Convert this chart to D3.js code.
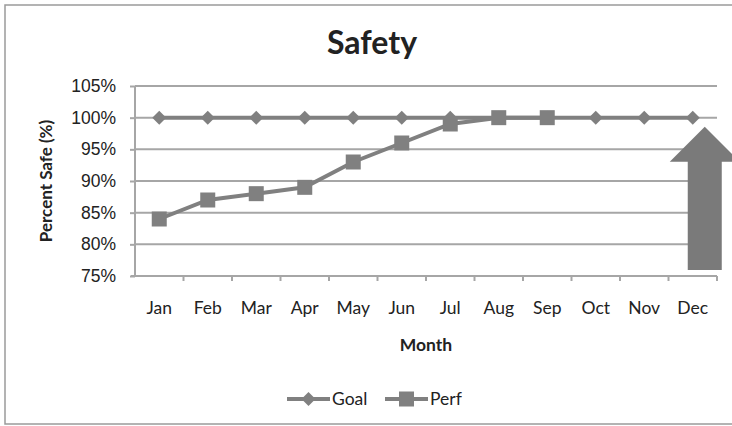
<!DOCTYPE html>
<html>
<head>
<meta charset="utf-8">
<script src="https://cdn.jsdelivr.net/npm/d3@7"></script>
<style>
  html, body { margin: 0; padding: 0; background: #fff; }
  svg { display: block; font-family: Lato, "Open Sans", "Liberation Sans", sans-serif; }
</style>
</head>
<body>
<svg id="chart" width="732" height="426"></svg>
<script>
// Monthly safety figures
const months = ["Jan", "Feb", "Mar", "Apr", "May", "Jun", "Jul", "Aug", "Sep", "Oct", "Nov", "Dec"];
const goalValues = [100, 100, 100, 100, 100, 100, 100, 100, 100, 100, 100, 100];
const perfValues = [84, 87, 88, 89, 93, 96, 99, 100, 100];
const yTicks = [75, 80, 85, 90, 95, 100, 105];
const seriesNames = ["Goal", "Perf"];

const svg = d3.select("#chart");
const W = 732, H = 426;
const plot = { left: 135, right: 717, top: 86, bottom: 276 };

const gridColor = "#a6a6a6";
const markColor = "#808080";
const textColor = "#222";

// outer chart frame
svg.append("rect")
  .attr("x", 5).attr("y", 5).attr("width", W + 4).attr("height", 419)
  .attr("fill", "#fff").attr("stroke", "#9a9a9a").attr("stroke-width", 1.5);

const x = d3.scaleBand().domain(months).range([plot.left, plot.right]).padding(0);
const y = d3.scaleLinear().domain([75, 105]).range([plot.bottom, plot.top]);

// horizontal gridlines
svg.append("g").selectAll("line").data(yTicks.filter(d => d > 75)).join("line")
  .attr("x1", plot.left).attr("x2", plot.right)
  .attr("y1", d => y(d)).attr("y2", d => y(d))
  .attr("stroke", gridColor).attr("stroke-width", 2);

// y axis
const yAxis = svg.append("g")
  .attr("transform", `translate(${plot.left},0)`)
  .call(d3.axisLeft(y).tickValues(yTicks).tickFormat(d => d + "%").tickSize(5).tickPadding(14));
yAxis.select(".domain").attr("stroke", gridColor).attr("stroke-width", 2)
  .attr("d", `M0,${plot.top}V${plot.bottom}`);
yAxis.selectAll(".tick line").attr("stroke", gridColor).attr("stroke-width", 2);
yAxis.selectAll(".tick text").attr("fill", textColor).attr("font-size", 17.5);

// x axis: ticks sit on category boundaries
const xAxis = svg.append("g")
  .attr("transform", `translate(0,${plot.bottom})`);
xAxis.append("line")
  .attr("x1", plot.left - 4).attr("x2", plot.right)
  .attr("y1", 0).attr("y2", 0)
  .attr("stroke", gridColor).attr("stroke-width", 2);
xAxis.selectAll("line.tick").data(months).join("line")
  .attr("class", "tick")
  .attr("x1", d => x(d) + x.bandwidth())
  .attr("x2", d => x(d) + x.bandwidth())
  .attr("y1", 0).attr("y2", 5)
  .attr("stroke", gridColor).attr("stroke-width", 2);
xAxis.selectAll("text").data(months).join("text")
  .attr("x", d => x(d) + x.bandwidth() / 2)
  .attr("y", 38)
  .attr("text-anchor", "middle")
  .attr("fill", textColor).attr("font-size", 17.5)
  .text(d => d);

const cx = (d, i) => x(months[i]) + x.bandwidth() / 2;

// Goal series
const seriesLine = d3.line().x((d, i) => cx(d, i)).y(d => y(d));
svg.append("path").datum(goalValues)
  .attr("d", seriesLine).attr("fill", "none")
  .attr("stroke", markColor).attr("stroke-width", 4);
const diamond = d3.symbol().type(d3.symbolDiamond2).size(125);
svg.append("g").selectAll("path").data(goalValues).join("path")
  .attr("d", diamond)
  .attr("transform", (d, i) => `translate(${cx(d, i)},${y(d)})`)
  .attr("fill", markColor);

// Perf series
svg.append("path").datum(perfValues)
  .attr("d", seriesLine).attr("fill", "none")
  .attr("stroke", markColor).attr("stroke-width", 4);
svg.append("g").selectAll("rect").data(perfValues).join("rect")
  .attr("x", (d, i) => cx(d, i) - 7.5).attr("y", d => y(d) - 7.5)
  .attr("width", 15).attr("height", 15)
  .attr("fill", markColor);

// upward arrow at the end of the year
const arrowX = x("Dec") + x.bandwidth() / 2 + 12;
const arrowTip = y(100) + 9;
const arrowBase = y(100) + 44;
const arrowBottom = y(75) - 6;
const arrow = d3.path();
arrow.moveTo(arrowX, arrowTip);
arrow.lineTo(arrowX + 35, arrowBase);
arrow.lineTo(arrowX + 17, arrowBase);
arrow.lineTo(arrowX + 17, arrowBottom);
arrow.lineTo(arrowX - 17, arrowBottom);
arrow.lineTo(arrowX - 17, arrowBase);
arrow.lineTo(arrowX - 35, arrowBase);
arrow.closePath();
svg.append("path").attr("d", arrow.toString()).attr("fill", "#7a7a7a");

// title
svg.append("text")
  .attr("x", 372).attr("y", 54)
  .attr("text-anchor", "middle")
  .attr("font-size", 32).attr("font-weight", "bold").attr("fill", textColor)
  .text("Safety");

// axis titles
svg.append("text")
  .attr("transform", `translate(52,${(plot.top + plot.bottom) / 2}) rotate(-90)`)
  .attr("text-anchor", "middle")
  .attr("font-size", 17).attr("font-weight", "bold").attr("fill", textColor)
  .text("Percent Safe (%)");
svg.append("text")
  .attr("x", 426).attr("y", 351)
  .attr("text-anchor", "middle")
  .attr("font-size", 17.5).attr("font-weight", "bold").attr("fill", textColor)
  .text("Month");

// legend
const legend = svg.append("g");
const legendItems = [
  { name: seriesNames[0], x0: 287, shape: "diamond" },
  { name: seriesNames[1], x0: 385, shape: "square" }
];
const ly = 399;
legendItems.forEach(item => {
  legend.append("line")
    .attr("x1", item.x0).attr("x2", item.x0 + 43)
    .attr("y1", ly).attr("y2", ly)
    .attr("stroke", markColor).attr("stroke-width", 4);
  if (item.shape === "diamond") {
    legend.append("path").attr("d", diamond)
      .attr("transform", `translate(${item.x0 + 21.5},${ly})`)
      .attr("fill", markColor);
  } else {
    legend.append("rect")
      .attr("x", item.x0 + 21.5 - 7.5).attr("y", ly - 7.5)
      .attr("width", 15).attr("height", 15).attr("fill", markColor);
  }
  legend.append("text")
    .attr("x", item.x0 + 45).attr("y", ly + 6)
    .attr("font-size", 17.5).attr("fill", textColor)
    .text(item.name);
});
</script>
</body>
</html>
